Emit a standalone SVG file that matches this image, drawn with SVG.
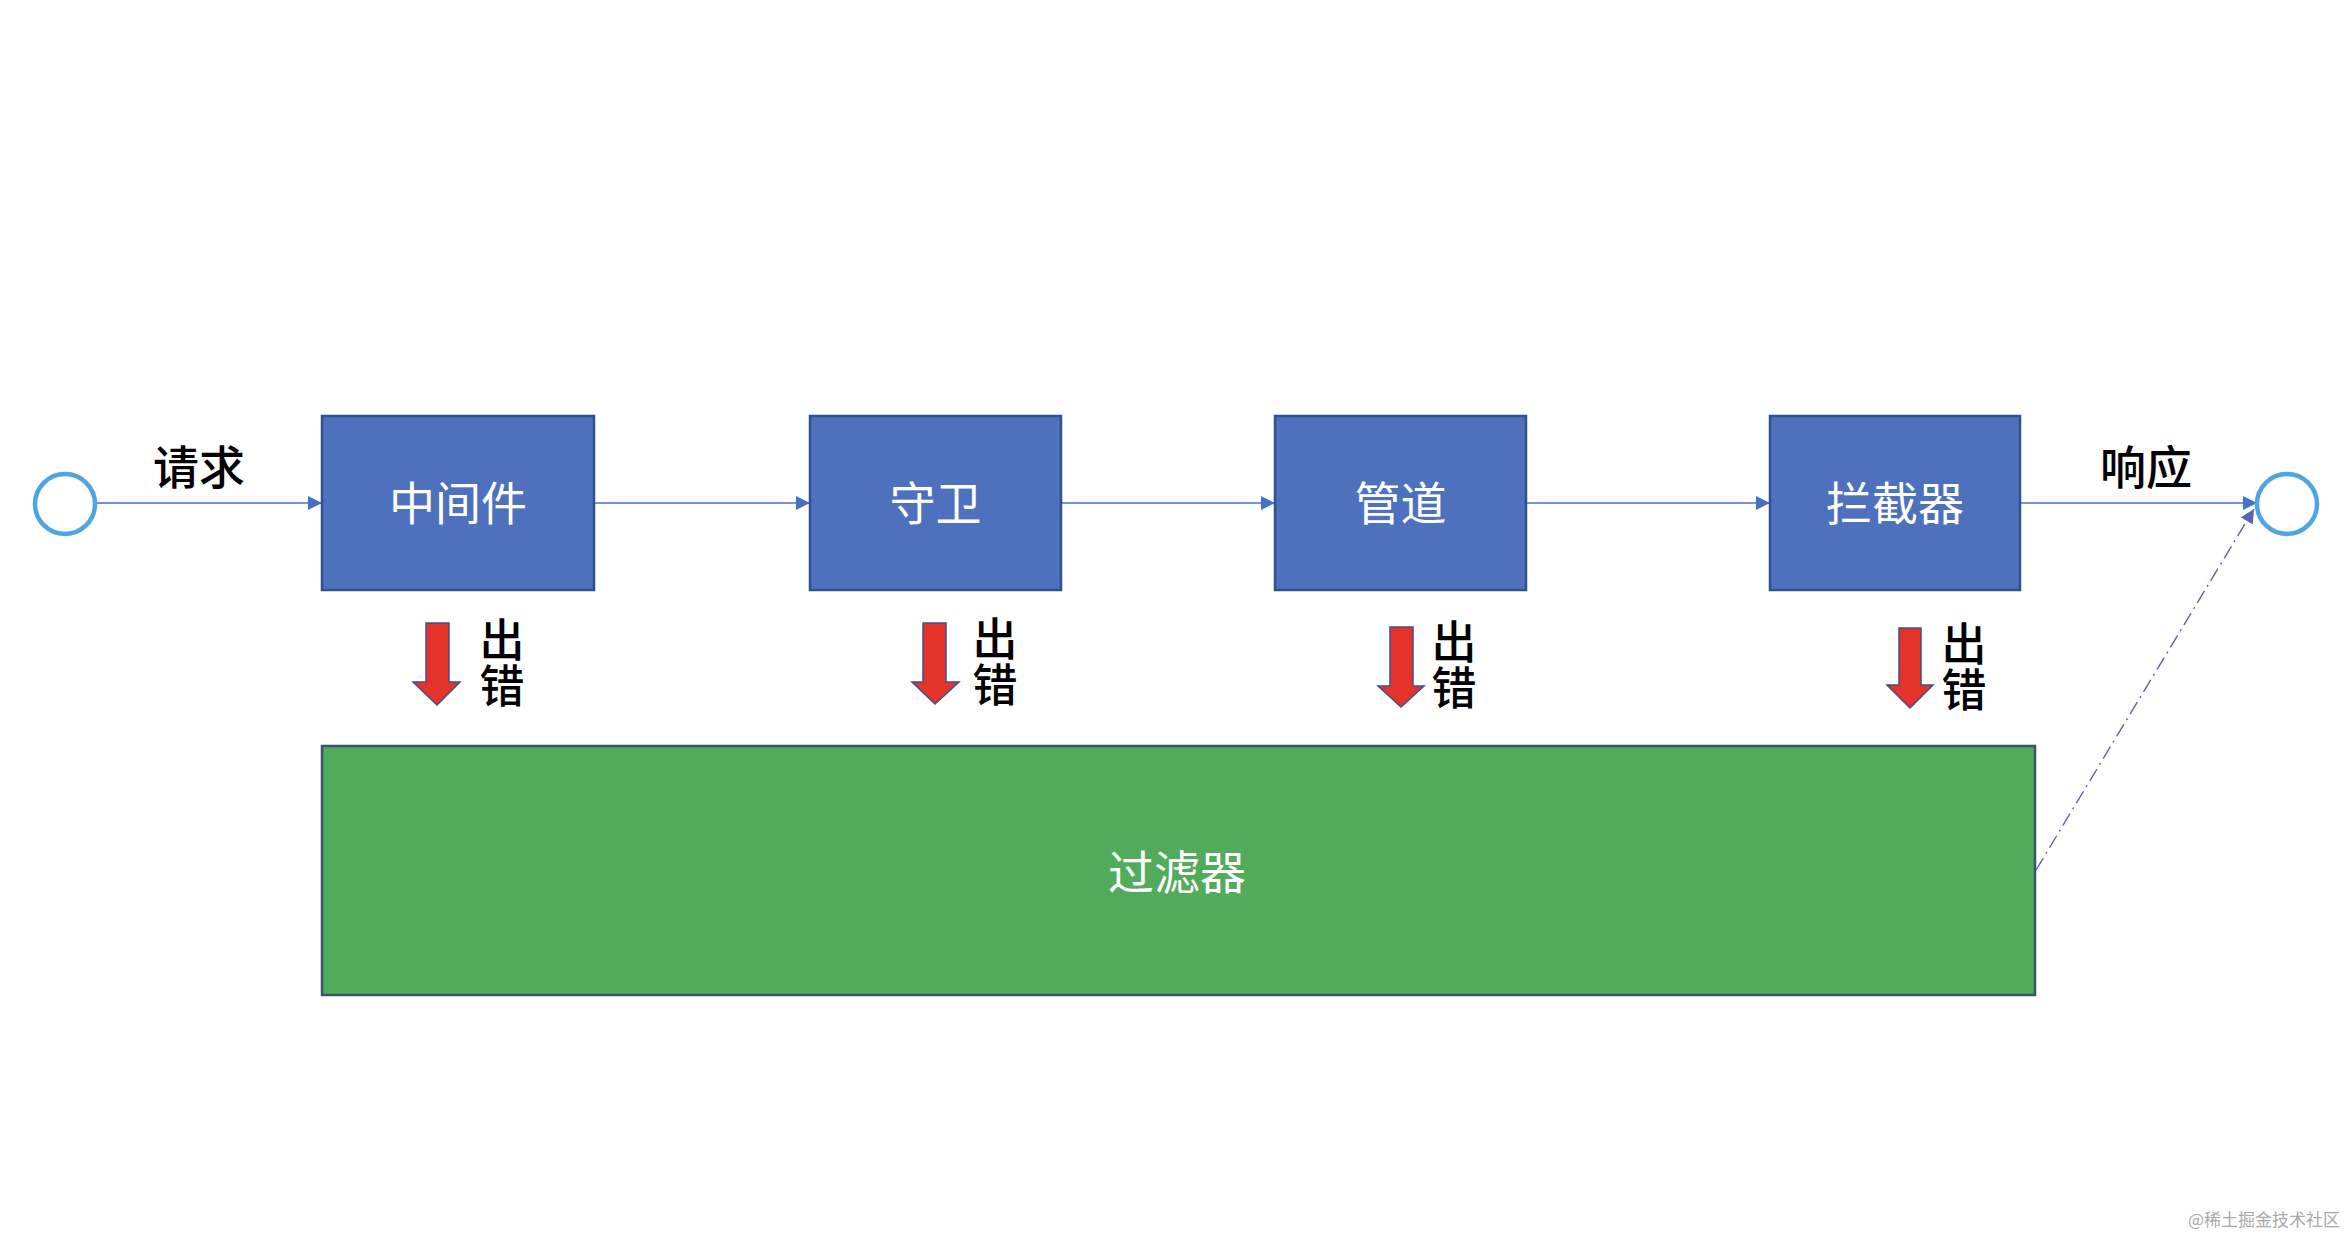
<svg xmlns="http://www.w3.org/2000/svg" width="2348" height="1234" viewBox="0 0 2348 1234">
<style>
.cjk{font-family:"Noto Sans CJK SC","Noto Sans",sans-serif}
.node{fill:#4E71BE;stroke:#2F528F;stroke-width:2.5}
.ntext{fill:#ffffff;font-size:46px;text-anchor:middle;dominant-baseline:central}
.label{fill:#000000;font-size:46px;text-anchor:middle;dominant-baseline:central;font-weight:500}
.err{fill:#000000;font-size:45px;text-anchor:middle;dominant-baseline:central;font-weight:500;writing-mode:vertical-rl;letter-spacing:1px}
.circ{fill:#ffffff;stroke:#4EA5E2;stroke-width:4.5}
.flow{stroke:#4472C4;stroke-width:1.6;fill:none}
.dash{stroke:#5A62B4;stroke-width:1.4;fill:none;stroke-dasharray:14 5 2 5}
.redarrow{fill:#E5332A;stroke:#3F4F8C;stroke-width:1.5;stroke-linejoin:miter}
</style>
<defs>
<marker id="ah" markerUnits="userSpaceOnUse" markerWidth="15" markerHeight="15" refX="14" refY="7" orient="auto">
<path d="M0,0 L14,7 L0,14 z" fill="#4472C4"/>
</marker>
<marker id="ahd" markerUnits="userSpaceOnUse" markerWidth="15" markerHeight="15" refX="14" refY="7" orient="auto">
<path d="M0,0 L14,7 L0,14 z" fill="#5A62B4"/>
</marker>
</defs>
<rect x="0" y="0" width="2348" height="1234" fill="#ffffff"/>

<g id="connectors">
<line class="flow" x1="96" y1="503" x2="322" y2="503" marker-end="url(#ah)"/>
<line class="flow" x1="594" y1="503" x2="810" y2="503" marker-end="url(#ah)"/>
<line class="flow" x1="1061" y1="503" x2="1275" y2="503" marker-end="url(#ah)"/>
<line class="flow" x1="1526" y1="503" x2="1770" y2="503" marker-end="url(#ah)"/>
<line class="flow" x1="2020" y1="503" x2="2257" y2="503" marker-end="url(#ah)"/>
<line class="dash" x1="2036" y1="870" x2="2254" y2="509" marker-end="url(#ahd)"/>
</g>

<g id="start">
<circle class="circ" cx="65" cy="504" r="30"/>
</g>
<g id="end">
<circle class="circ" cx="2287" cy="504" r="30"/>
</g>

<g id="label-request"><text class="cjk label" x="199" y="464">请求</text></g>
<g id="label-response"><text class="cjk label" x="2146" y="464">响应</text></g>

<g id="middleware">
<rect class="node" x="322" y="416" width="272" height="174"/>
<text class="cjk ntext" x="458" y="500">中间件</text>
</g>
<g id="guard">
<rect class="node" x="810" y="416" width="251" height="174"/>
<text class="cjk ntext" x="935.5" y="500">守卫</text>
</g>
<g id="pipe">
<rect class="node" x="1275" y="416" width="251" height="174"/>
<text class="cjk ntext" x="1400.5" y="500">管道</text>
</g>
<g id="interceptor">
<rect class="node" x="1770" y="416" width="250" height="174"/>
<text class="cjk ntext" x="1895" y="500">拦截器</text>
</g>

<g id="filter">
<rect x="322" y="746" width="1713" height="249" fill="#50AC5B" stroke="#35566C" stroke-width="2.5"/>
<text class="cjk ntext" x="1177" y="869">过滤器</text>
</g>

<g id="error1">
<path class="redarrow" d="M426,623 L449,623 L449,682 L460,682 L437,705 L413,682 L426,682 z"/>
<text class="cjk err" x="502" y="663">出错</text>
</g>
<g id="error2">
<path class="redarrow" d="M923,623 L946,623 L946,682 L959,682 L935,704 L912,682 L923,682 z"/>
<text class="cjk err" x="995" y="662">出错</text>
</g>
<g id="error3">
<path class="redarrow" d="M1390,627 L1413,627 L1413,686 L1424,686 L1401,707 L1378,686 L1390,686 z"/>
<text class="cjk err" x="1454" y="665">出错</text>
</g>
<g id="error4">
<path class="redarrow" d="M1899,628 L1921,628 L1921,685 L1933,685 L1910,708 L1887,685 L1899,685 z"/>
<text class="cjk err" x="1964" y="667">出错</text>
</g>

<g id="watermark">
<text class="cjk" x="2340" y="1218" font-size="17" fill="#A8A8A8" text-anchor="end" dominant-baseline="central">@稀土掘金技术社区</text>
</g>
</svg>
